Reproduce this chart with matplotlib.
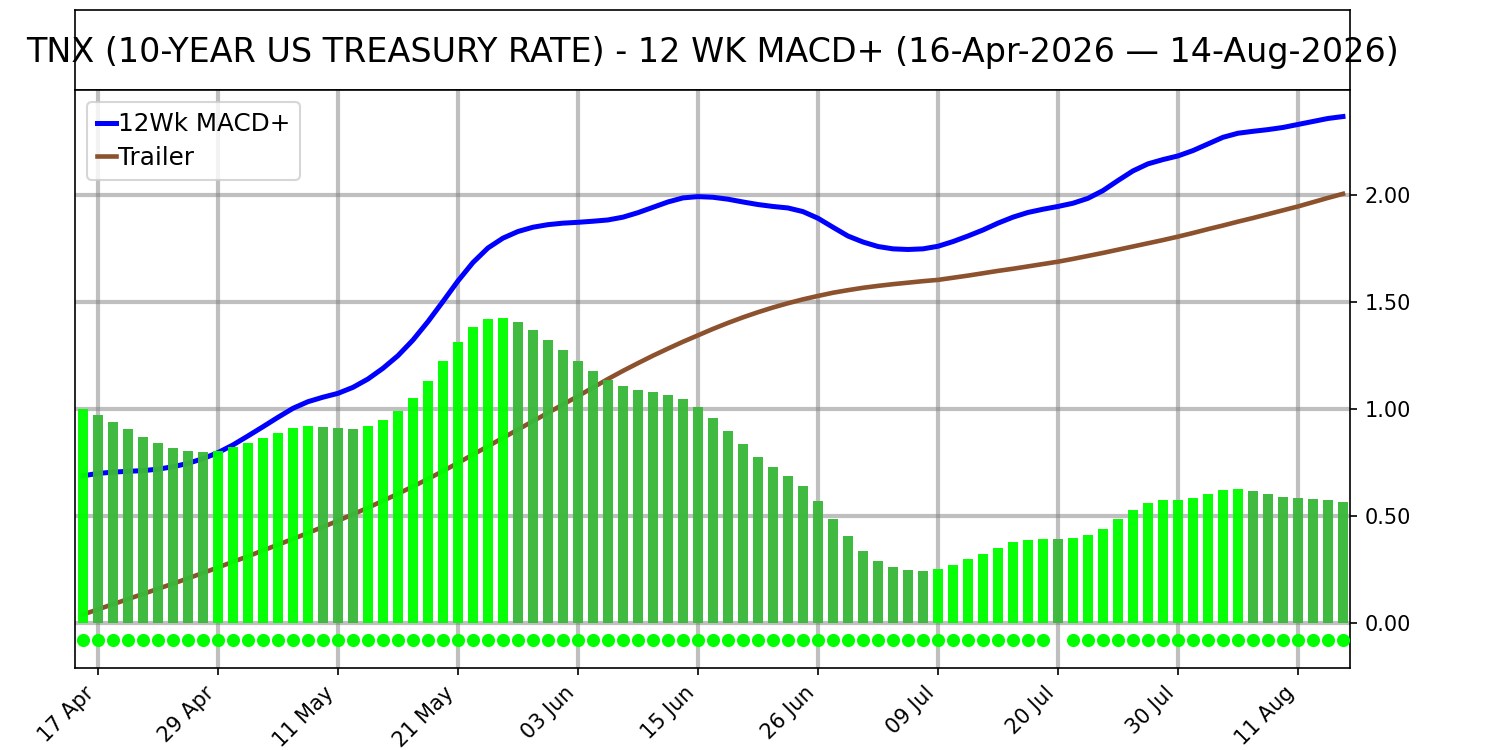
import numpy as np
import matplotlib
matplotlib.use("Agg")
import matplotlib.pyplot as plt

# 12Wk MACD+ histogram, one bar per trading day (16-Apr-2026 .. 14-Aug-2026)
hist = [1.000, 0.972, 0.939, 0.907, 0.869, 0.841, 0.818, 0.804, 0.799, 0.804,
        0.822, 0.841, 0.864, 0.888, 0.911, 0.921, 0.916, 0.910, 0.906, 0.921,
        0.949, 0.991, 1.051, 1.131, 1.224, 1.313, 1.383, 1.419, 1.425, 1.407,
        1.369, 1.322, 1.276, 1.223, 1.178, 1.136, 1.107, 1.089, 1.079, 1.065,
        1.046, 1.008, 0.958, 0.897, 0.836, 0.776, 0.729, 0.687, 0.640, 0.570,
        0.486, 0.407, 0.336, 0.290, 0.262, 0.248, 0.243, 0.252, 0.271, 0.299,
        0.322, 0.350, 0.378, 0.388, 0.393, 0.393, 0.397, 0.411, 0.439, 0.486,
        0.528, 0.561, 0.575, 0.577, 0.584, 0.603, 0.621, 0.626, 0.617, 0.603,
        0.589, 0.584, 0.579, 0.575, 0.565]

macd = [0.688, 0.699, 0.705, 0.709, 0.712, 0.719, 0.730, 0.746, 0.768, 0.796,
        0.832, 0.874, 0.917, 0.961, 1.003, 1.034, 1.055, 1.073, 1.101, 1.140,
        1.190, 1.249, 1.322, 1.408, 1.502, 1.598, 1.684, 1.752, 1.798, 1.829,
        1.849, 1.861, 1.868, 1.872, 1.877, 1.883, 1.896, 1.917, 1.942, 1.967,
        1.986, 1.992, 1.989, 1.980, 1.967, 1.955, 1.946, 1.939, 1.922, 1.891,
        1.849, 1.808, 1.780, 1.759, 1.748, 1.745, 1.748, 1.760, 1.782, 1.808,
        1.836, 1.868, 1.896, 1.918, 1.933, 1.946, 1.961, 1.984, 2.020, 2.067,
        2.112, 2.145, 2.165, 2.182, 2.207, 2.238, 2.269, 2.288, 2.297, 2.305,
        2.315, 2.329, 2.343, 2.357, 2.366]

trailer = [0.040, 0.064, 0.088, 0.112, 0.136, 0.160, 0.184, 0.209, 0.234, 0.260,
           0.286, 0.312, 0.339, 0.366, 0.393, 0.421, 0.449, 0.478, 0.508, 0.539,
           0.571, 0.604, 0.638, 0.673, 0.710, 0.748, 0.787, 0.826, 0.865, 0.904,
           0.943, 0.982, 1.021, 1.060, 1.100, 1.140, 1.178, 1.214, 1.249, 1.282,
           1.314, 1.344, 1.374, 1.402, 1.428, 1.452, 1.474, 1.494, 1.512, 1.528,
           1.543, 1.555, 1.566, 1.575, 1.583, 1.590, 1.597, 1.603, 1.613, 1.623,
           1.634, 1.645, 1.655, 1.666, 1.677, 1.688, 1.701, 1.715, 1.729, 1.744,
           1.759, 1.774, 1.789, 1.805, 1.822, 1.840, 1.857, 1.875, 1.892, 1.910,
           1.928, 1.946, 1.966, 1.986, 2.005]

# signal dots under the zero line (one day has none)
signal_on = [True] * 65 + [False] + [True] * 19

tick_labels = ['17 Apr', '29 Apr', '11 May', '21 May', '03 Jun', '15 Jun',
               '26 Jun', '09 Jul', '20 Jul', '30 Jul', '11 Aug']

title = 'TNX (10-YEAR US TREASURY RATE) - 12 WK MACD+ (16-Apr-2026 \u2014 14-Aug-2026)'

x = np.arange(len(hist))
hist = np.array(hist)

# bright green when the histogram rises, darker green otherwise
rising = np.concatenate([[True], hist[1:] > hist[:-1]])
bar_colors = np.where(rising, '#00ff00', '#3ab83a')

fig = plt.figure(figsize=(10, 5), dpi=150)
ax_t = fig.add_axes([0.05, 0.88, 0.85, 0.1067])
ax = fig.add_axes([0.05, 0.1093, 0.85, 0.7707])

# title box
ax_t.set_xticks([])
ax_t.set_yticks([])
ax_t.text(0.5, 0.47, title, ha='center', va='center', fontsize=16.0,
          transform=ax_t.transAxes, clip_on=False)

# main panel
ax.set_axisbelow(True)
ax.grid(True, color='gray', alpha=0.5, linewidth=2)
ax.plot(x, macd, color='#0000ff', linewidth=2.4, label='12Wk MACD+', zorder=2)
ax.plot(x, trailer, color='#8c522d', linewidth=2.2, label='Trailer', zorder=2)
ax.bar(x, hist, width=0.7, color=bar_colors, alpha=0.97, zorder=3)

sig_x = x[np.array(signal_on)]
ax.plot(sig_x, np.full(len(sig_x), -0.08), 'o', color='#00ff00',
        markersize=5.3, linestyle='none', zorder=4)

ax.set_xlim(-0.53, 84.47)
ax.set_ylim(-0.21, 2.49)

ax.set_xticks(x[1::8])
ax.set_xticklabels(tick_labels, rotation=45, ha='right')
ax.yaxis.tick_right()
ax.set_yticks([0, 0.5, 1.0, 1.5, 2.0])
ax.set_yticklabels(['%.2f' % v for v in [0, 0.5, 1.0, 1.5, 2.0]])

ax.legend(loc='upper left', fontsize=11.8, handlelength=0.75,
          handletextpad=0.1, borderpad=0.4, labelspacing=0.4)

fig.savefig('out.png', dpi=150)
